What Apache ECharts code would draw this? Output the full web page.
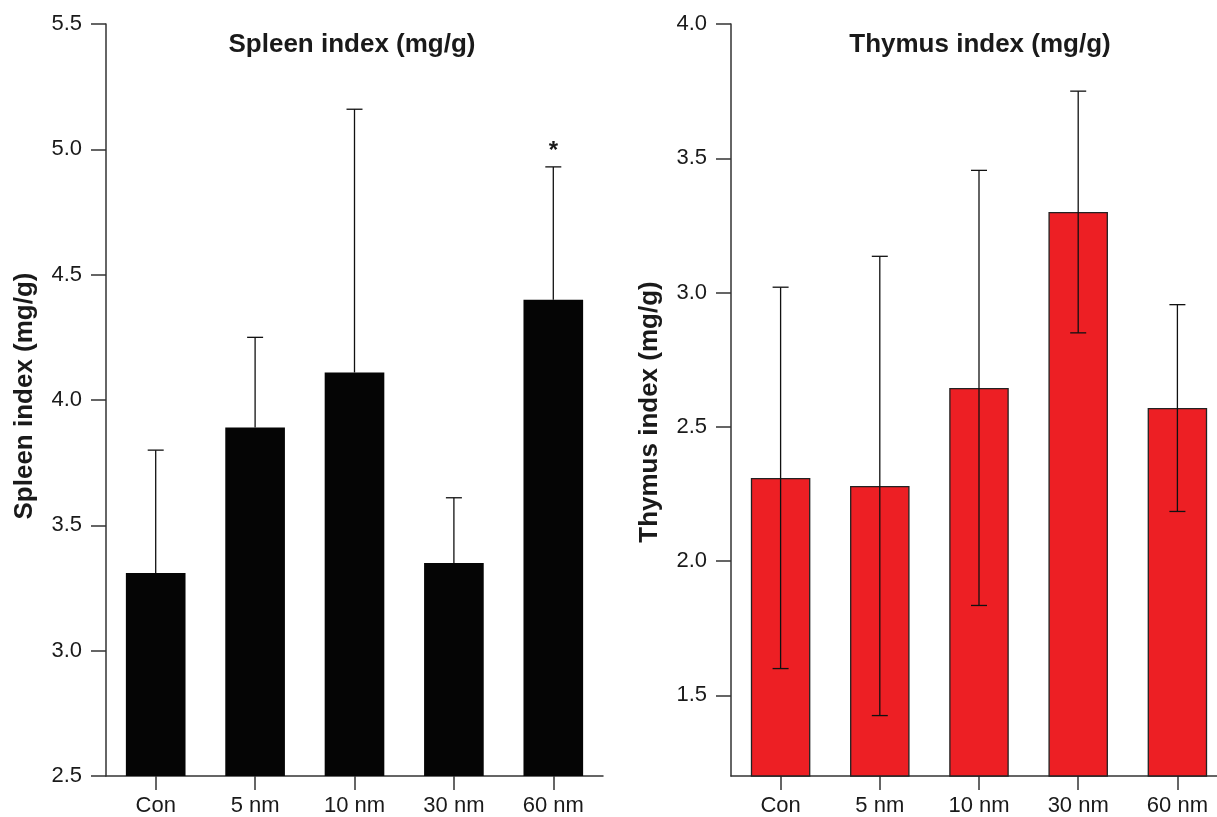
<!DOCTYPE html>
<html>
<head>
<meta charset="utf-8">
<script src="https://cdn.jsdelivr.net/npm/echarts@6/dist/echarts.min.js"></script>
<style>
html,body{margin:0;padding:0;background:#fff;}
#chart{width:1217px;height:817px;}
</style>
</head>
<body>
<div id="chart"></div>
<script>
// ---- data ----
const categories = ['Con', '5 nm', '10 nm', '30 nm', '60 nm'];
const spleenMean = [3.31, 3.89, 4.11, 3.35, 4.40];
const spleenSD   = [0.49, 0.36, 1.05, 0.26, 0.53];
const spleenSig  = ['', '', '', '', '*'];
const thymusMean = [2.31, 2.28, 2.645, 3.30, 2.57];
const thymusSD   = [0.71, 0.855, 0.81, 0.45, 0.385];
const spleenTicks = [2.5, 3.0, 3.5, 4.0, 4.5, 5.0, 5.5];
const thymusTicks = [1.5, 2.0, 2.5, 3.0, 3.5, 4.0];

const FONT = 'Liberation Sans, Arial, Helvetica, sans-serif';
const TXT = '#1a1a1a';
const AX = '#333';

const chart = echarts.init(document.getElementById('chart'), null, {renderer: 'canvas'});

function errData(mean, sd, sig) {
  return mean.map((m, i) => [i, m, sd[i], sig ? sig[i] : '']);
}

function errRender(upperOnly) {
  return function (params, api) {
    const i = api.value(0), m = api.value(1), s = api.value(2);
    const sig = api.value(3);
    const top = api.coord([i, m + s]);
    const bot = api.coord([i, upperOnly ? m : m - s]);
    const half = 8;
    const style = {stroke: '#111', lineWidth: 1.3};
    const children = [
      {type: 'line', shape: {x1: top[0], y1: top[1], x2: bot[0], y2: bot[1]}, style},
      {type: 'line', shape: {x1: top[0] - half, y1: top[1], x2: top[0] + half, y2: top[1]}, style}
    ];
    if (!upperOnly) {
      children.push({type: 'line', shape: {x1: bot[0] - half, y1: bot[1], x2: bot[0] + half, y2: bot[1]}, style});
    }
    if (sig) {
      children.push({type: 'text', style: {text: String(sig), x: top[0], y: top[1] - 16,
        textAlign: 'center', textVerticalAlign: 'middle', font: 'bold 24px ' + FONT, fill: TXT}});
    }
    return {type: 'group', children};
  };
}

function yAxisCfg(gridIndex, min, max, name, ticks, pad) {
  return {
    type: 'value', gridIndex, min, max,
    name, nameLocation: 'middle', nameGap: 68, nameRotate: 90,
    nameTextStyle: {fontFamily: FONT, fontWeight: 'bold', fontSize: 26, color: TXT, padding: pad},
    axisLine: {show: true, lineStyle: {color: AX, width: 1.5}},
    axisTick: {show: true, length: 15, lineStyle: {color: AX, width: 1.5}, customValues: ticks},
    axisLabel: {color: TXT, fontFamily: FONT, fontSize: 22, margin: 24, customValues: ticks,
      formatter: v => Number(v).toFixed(1)},
    splitLine: {show: false}
  };
}

function xAxisCfg(gridIndex) {
  return {
    type: 'category', gridIndex, data: categories, boundaryGap: true,
    axisLine: {show: true, lineStyle: {color: AX, width: 1.5}},
    axisTick: {show: true, alignWithLabel: true, length: 14, lineStyle: {color: AX, width: 1.5}},
    axisLabel: {color: TXT, fontFamily: FONT, fontSize: 22, margin: 19, interval: 0},
    splitLine: {show: false}
  };
}

const option = {
  animation: false,
  backgroundColor: '#fff',
  title: [
    {text: 'Spleen index (mg/g)', left: 347, top: 27, textAlign: 'center',
     textStyle: {fontFamily: FONT, fontWeight: 'bold', fontSize: 26, color: TXT}},
    {text: 'Thymus index (mg/g)', left: 975, top: 27, textAlign: 'center',
     textStyle: {fontFamily: FONT, fontWeight: 'bold', fontSize: 26, color: TXT}}
  ],
  grid: [
    {left: 106, width: 497, top: 24, height: 752, outerBoundsMode: 'none', containLabel: false},
    {left: 731, width: 496, top: 24, height: 752, outerBoundsMode: 'none', containLabel: false}
  ],
  xAxis: [xAxisCfg(0), xAxisCfg(1)],
  yAxis: [
    yAxisCfg(0, 2.5, 5.5, 'Spleen index (mg/g)', spleenTicks, [0, 0, 0, 8]),
    yAxisCfg(1, 1.2, 4.0, 'Thymus index (mg/g)', thymusTicks, [0, 24, 0, 0])
  ],
  series: [
    {type: 'bar', xAxisIndex: 0, yAxisIndex: 0, data: spleenMean, barWidth: '60%',
     itemStyle: {color: '#050505'}, z: 2},
    {type: 'custom', xAxisIndex: 0, yAxisIndex: 0, data: errData(spleenMean, spleenSD, spleenSig),
     renderItem: errRender(true), z: 3, encode: {x: 0, y: 1}},
    {type: 'bar', xAxisIndex: 1, yAxisIndex: 1, data: thymusMean, barWidth: '60%',
     itemStyle: {color: '#ED1F24', borderColor: '#222', borderWidth: 1.3}, z: 2},
    {type: 'custom', xAxisIndex: 1, yAxisIndex: 1, data: errData(thymusMean, thymusSD),
     renderItem: errRender(false), z: 3, encode: {x: 0, y: 1}}
  ]
};
chart.setOption(option);
</script>
</body>
</html>
